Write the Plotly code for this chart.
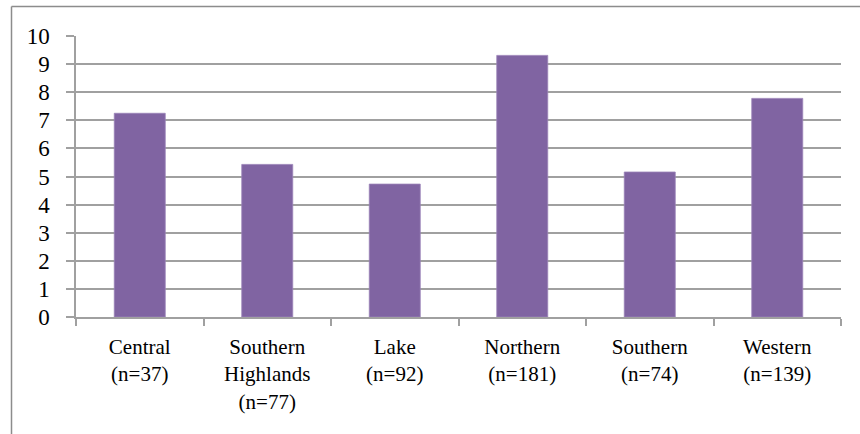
import plotly.graph_objects as go

categories = ["Central<br>(n=37)", "Southern<br>Highlands<br>(n=77)", "Lake<br>(n=92)",
              "Northern<br>(n=181)", "Southern<br>(n=74)", "Western<br>(n=139)"]
values = [7.25, 5.43, 4.73, 9.31, 5.16, 7.78]
y_ticks = list(range(0, 11))

W, H = 860, 434
L, R, T, B = 76, 841, 36, 317

fig = go.Figure(go.Bar(
    x=categories, y=values,
    marker=dict(color="#8064A2", line=dict(color="#9A83B8", width=0.8)),
    width=0.4,
))

font_family = "Liberation Serif"
fig.update_layout(
    width=W, height=H,
    margin=dict(l=L, r=W - R, t=T, b=H - B, pad=0),
    paper_bgcolor="white", plot_bgcolor="white",
    showlegend=False,
    font=dict(family=font_family, size=21, color="#000000"),
    bargap=0.6,
    yaxis=dict(
        range=[0, 10], tickvals=y_ticks, showgrid=True, gridcolor="#A0A0A0", gridwidth=1.5,
        showline=True, linecolor="#A0A0A0", linewidth=1.5,
        ticks="outside", ticklen=8, tickcolor="#A0A0A0", tickwidth=1.5,
        tickfont=dict(family=font_family, size=23, color="#000000"),
        ticklabelstandoff=12,
        zeroline=False, fixedrange=True,
    ),
    xaxis=dict(
        showline=True, linecolor="#A0A0A0", linewidth=1.5,
        ticks="outside", ticklen=7, tickcolor="#A0A0A0", tickwidth=1.5,
        tickson="boundaries", tickangle=0,
        tickfont=dict(family=font_family, size=21, color="#000000"), ticklabelstandoff=10,
        fixedrange=True,
    ),
)

# outer chart border (left and top edges visible)
bx = (11.5 - L) / (R - L)
by = (B - 6.5) / (B - T)
fig.add_shape(type="line", xref="paper", yref="paper", x0=bx, x1=bx, y0=by, y1=-1,
              line=dict(color="#8C8C8C", width=1.5))
fig.add_shape(type="line", xref="paper", yref="paper", x0=bx, x1=1.2, y0=by, y1=by,
              line=dict(color="#8C8C8C", width=1.5))

fig.write_html("out.html")
